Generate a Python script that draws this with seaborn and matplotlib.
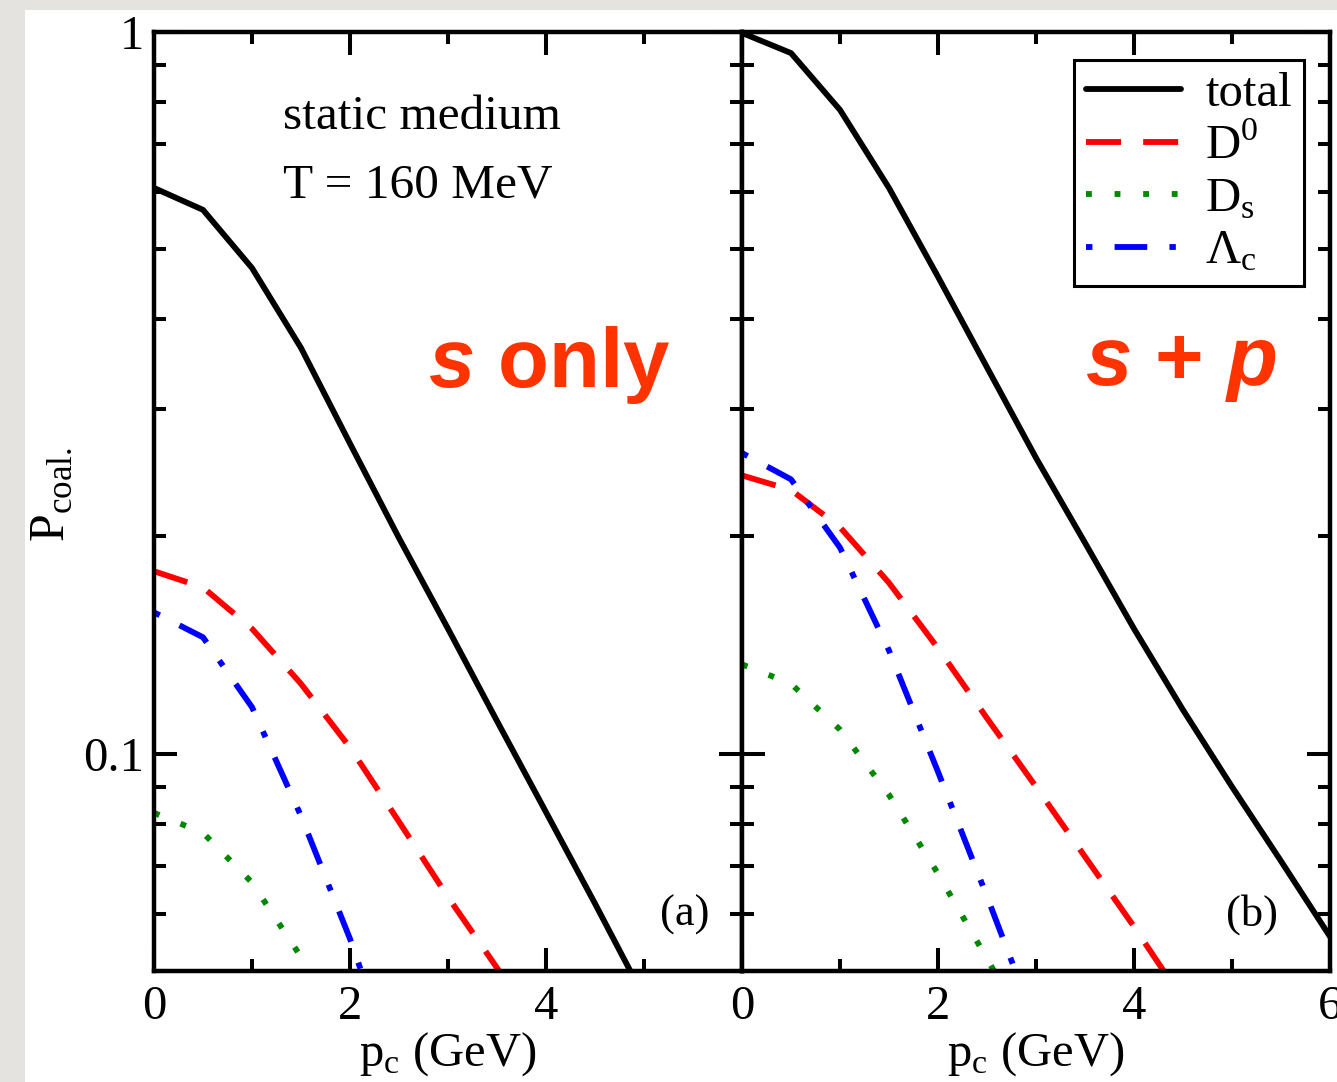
import numpy as np
import pandas as pd
import matplotlib
matplotlib.use("Agg")
import matplotlib.pyplot as plt
import seaborn as sns
from matplotlib.lines import Line2D
from matplotlib.patches import Rectangle
from matplotlib.ticker import LogLocator, NullFormatter, FixedLocator, FixedFormatter

# ---------------- data ----------------
species = ["total", "D0", "Ds", "Lc"]
legend_labels = ["total", r"D$^{\mathrm{0}}$", r"D$_{\mathrm{s}}$", r"Λ$_{\mathrm{c}}$"]

# panel (a): s only
p_total_s = [0, 0.5, 1, 1.5, 2, 2.5, 3, 3.5, 4, 4.5, 5]
P_total_s = [0.608, 0.567, 0.471, 0.365, 0.269, 0.199, 0.149, 0.111, 0.083, 0.062, 0.046]
p_d0_s = [0, 0.5, 1, 1.5, 2, 2.5, 3, 3.5, 4]
P_d0_s = [0.179, 0.170, 0.149, 0.125, 0.102, 0.0805, 0.0633, 0.0505, 0.0402]
p_ds_s = [0, 0.5, 1, 1.5, 2]
P_ds_s = [0.0828, 0.0777, 0.0663, 0.0523, 0.0389]
p_lc_s = [0, 0.5, 1, 1.5, 2, 2.5]
P_lc_s = [0.157, 0.145, 0.116, 0.082, 0.0554, 0.0354]

# panel (b): s + p
p_total_sp = [0, 0.5, 1, 1.5, 2, 2.5, 3, 3.5, 4, 4.5, 5, 5.5, 6]
P_total_sp = [0.997, 0.935, 0.780, 0.608, 0.458, 0.343, 0.257, 0.196, 0.149, 0.115, 0.090, 0.071, 0.0558]
p_d0_sp = [0, 0.5, 1, 1.5, 2, 2.5, 3, 3.5, 4, 4.5]
P_d0_sp = [0.243, 0.232, 0.206, 0.1725, 0.140, 0.112, 0.090, 0.072, 0.0576, 0.0456]
p_ds_sp = [0, 0.5, 1, 1.5, 2, 2.5, 3]
P_ds_sp = [0.133, 0.125, 0.108, 0.0877, 0.0682, 0.052, 0.0395]
p_lc_sp = [0, 0.5, 1, 1.5, 2, 2.5, 3]
P_lc_sp = [0.261, 0.240, 0.193, 0.139, 0.0944, 0.0634, 0.0421]

x_major = [0, 2, 4, 6]
x_minor = [1, 3, 5]
x_labels_a = ["0", "2", "4", ""]
x_labels_b = ["0", "2", "4", "6"]
y_major = [0.01, 0.1, 1]
y_labels = ["0.01", "0.1", "1"]

# ---------------- style ----------------
sns.set_theme(style="ticks")
plt.rcParams["font.family"] = ["Liberation Serif", "DejaVu Serif"]
plt.rcParams["mathtext.fontset"] = "custom"
plt.rcParams["mathtext.rm"] = "Liberation Serif"
plt.rcParams["mathtext.it"] = "Liberation Sans:italic:bold"
plt.rcParams["mathtext.bf"] = "Liberation Serif:bold"
for k in ["text.color", "axes.labelcolor", "xtick.color", "ytick.color", "axes.edgecolor"]:
    plt.rcParams[k] = "black"

palette = {"total": "#000000", "D0": "#ff0000", "Ds": "#008800", "Lc": "#0000ff"}
dashes = {"total": "", "D0": (6.0, 3.8), "Ds": (1.0, 3.9), "Lc": (1.1, 3.8, 5.6, 3.8)}
LW = 4.2
FS = 35

W, H = 1337, 1082
fig = plt.figure(figsize=(W / 100, H / 100), dpi=100, facecolor="#e5e3e0")
fig.patches.append(Rectangle((25 / W, 0), 1, 1 - 10 / H, transform=fig.transFigure,
                             facecolor="white", edgecolor="none", zorder=-10))

def px_axes(x0, x1, y0, y1):
    return fig.add_axes([x0 / W, 1 - y1 / H, (x1 - x0) / W, (y1 - y0) / H], zorder=1)

axA = px_axes(154, 742, 32, 971)
axB = px_axes(742, 1330, 32, 971)

def make_df(groups):
    rows = []
    for name, xs, ys in groups:
        for xv, yv in zip(xs, ys):
            rows.append({"p": xv, "P": yv, "species": name})
    return pd.DataFrame(rows)

dfA = make_df([("total", p_total_s, P_total_s), ("D0", p_d0_s, P_d0_s),
               ("Ds", p_ds_s, P_ds_s), ("Lc", p_lc_s, P_lc_s)])
dfB = make_df([("total", p_total_sp, P_total_sp), ("D0", p_d0_sp, P_d0_sp),
               ("Ds", p_ds_sp, P_ds_sp), ("Lc", p_lc_sp, P_lc_sp)])

for ax, df, xl in [(axA, dfA, x_labels_a), (axB, dfB, x_labels_b)]:
    ax.set_facecolor("white")
    sns.lineplot(data=df, x="p", y="P", hue="species", style="species",
                 hue_order=species, style_order=species, palette=palette,
                 dashes=dashes, estimator=None, sort=False, linewidth=LW,
                 legend=False, ax=ax)
    ax.set_yscale("log")
    ax.set_xlim(0, 6)
    ax.set_ylim(0.05, 1)
    for sp in ax.spines.values():
        sp.set_visible(True)
        sp.set_linewidth(3.2)
        sp.set_color("black")
        sp.set_zorder(5)
    ax.xaxis.set_major_locator(FixedLocator(x_major))
    ax.xaxis.set_major_formatter(FixedFormatter(xl))
    ax.xaxis.set_minor_locator(FixedLocator(x_minor))
    ax.yaxis.set_major_locator(FixedLocator(y_major))
    ax.yaxis.set_major_formatter(FixedFormatter(y_labels))
    ax.yaxis.set_minor_locator(LogLocator(base=10, subs=np.arange(2, 10), numticks=20))
    ax.yaxis.set_minor_formatter(NullFormatter())
    ax.tick_params(which="both", direction="in", top=True, right=True, bottom=True, left=True,
                   colors="black", width=2.9)
    ax.tick_params(which="major", length=16.5, labelsize=FS, pad=10)
    ax.tick_params(which="minor", length=8.6)
    ax.set_xlabel(r"p$_{\mathrm{c}}$ (GeV)", fontsize=FS, labelpad=1)
    ax.set_ylabel("")

axA.tick_params(axis="y", which="major", pad=7)
axB.tick_params(axis="y", which="both", labelleft=False)

fig.text(52 / W, 1 - 495 / H, r"P$_{\mathrm{coal.}}$", rotation=90, fontsize=36,
         ha="center", va="center")

fig.text(283 / W, 1 - 117 / H, "static medium", fontsize=FS + 0.5, ha="left", va="center")
fig.text(283 / W, 1 - 185 / H, "T = 160 MeV", fontsize=FS + 0.5, ha="left", va="center")

red_txt = "#ff3300"
fig.text(549 / W, 1 - 365 / H, r"$\mathit{s}$ only", fontsize=60, color=red_txt,
         family="Liberation Sans", weight="bold", ha="center", va="center")
fig.text(1181 / W, 1 - 365 / H, r"$\mathit{s}$ + $\mathit{p}$", fontsize=60, color=red_txt,
         family="Liberation Sans", weight="bold", ha="center", va="center")

fig.text(685 / W, 1 - 915 / H, "(a)", fontsize=32, ha="center", va="center")
fig.text(1252 / W, 1 - 915 / H, "(b)", fontsize=32, ha="center", va="center")

handles = []
for sp_name in species:
    d = dashes[sp_name]
    h = Line2D([0], [0], color=palette[sp_name], linewidth=LW)
    if d != "":
        h.set_dashes(d)
    handles.append(h)
leg = axB.legend(handles, legend_labels, loc="upper right",
                 bbox_to_anchor=((1304 - 742) / 588, (971 - 60) / 939),
                 borderaxespad=0, fontsize=FS, handlelength=1.95, handletextpad=0.5,
                 labelspacing=0.17, borderpad=0.25, frameon=True, fancybox=False,
                 framealpha=1, edgecolor="black")
leg.get_frame().set_linewidth(2.2)

fig.savefig("out.png", dpi=100, facecolor=fig.get_facecolor())
